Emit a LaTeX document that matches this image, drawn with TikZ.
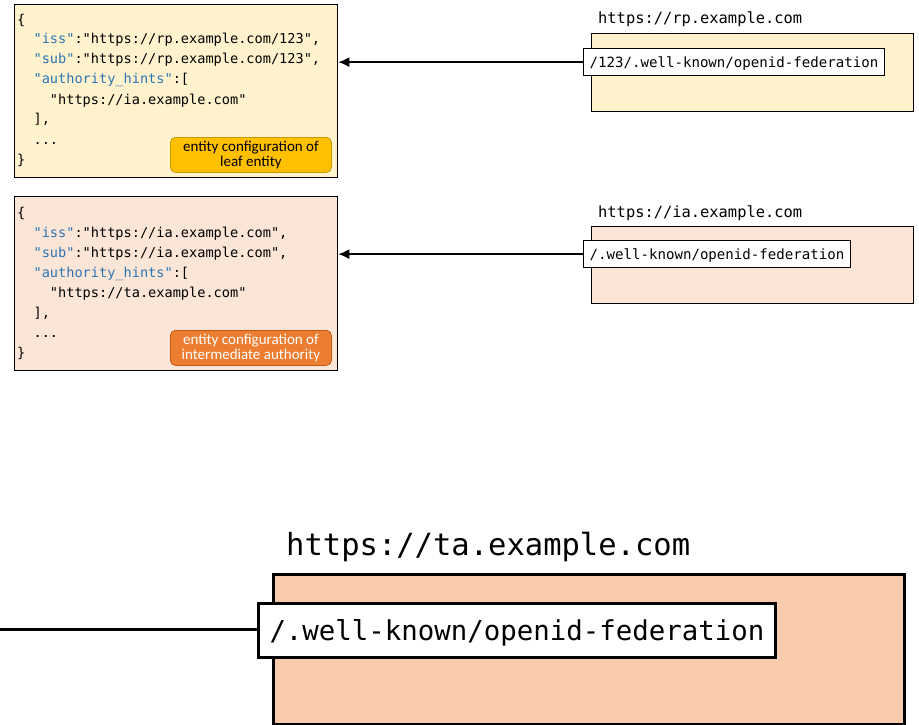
\documentclass[tikz,border=0pt]{standalone}
\usepackage{fontspec}
\setmainfont{Carlito}
\newfontfamily\monof{DejaVu Sans Mono}
\usetikzlibrary{arrows.meta}
\definecolor{keyblue}{HTML}{2E75B6}
\definecolor{leaffill}{HTML}{FFF2CC}
\definecolor{iafill}{HTML}{FBE5D6}
\definecolor{tafill}{HTML}{F8CBAD}
\definecolor{leaftag}{HTML}{FFC000}
\definecolor{leaftagb}{HTML}{C99700}
\definecolor{iatag}{HTML}{ED7D31}
\definecolor{iatagb}{HTML}{C55A11}
\newcommand\jkey[1]{\textcolor{keyblue}{"#1"}}
\tikzset{
  jbox/.style={draw=black, line width=1.3pt, anchor=north west, inner sep=0pt},
  jline/.style={anchor=base west, inner sep=0pt, font=\monof\fontsize{13.6}{16}\selectfont},
  hostbox/.style={draw=black, line width=1.3pt, anchor=north west, inner sep=0pt},
  pathbox/.style={draw=black, fill=white, line width=1.3pt, anchor=north west, inner xsep=6pt, inner ysep=0pt, font=\monof\fontsize{14.1}{16}\selectfont, text depth=0pt},
  hostlbl/.style={anchor=base west, inner sep=0pt, font=\monof\fontsize{15.4}{18}\selectfont},
  tag/.style={rounded corners=5pt, line width=0.8pt, anchor=north west, inner sep=0pt, align=center, font=\fontsize{15}{15.5}\selectfont},
  arr/.style={line width=1.6pt, -{Latex[length=11pt,width=10pt]}},
}
\begin{document}
\begin{tikzpicture}[x=1pt,y=-1pt]
\useasboundingbox (0,0) rectangle (919,725);
% ---------- leaf entity configuration ----------
\node[jbox, fill=leaffill, minimum width=323pt, minimum height=173pt] (j1) at (14,4) {};
\node[jline] (j1a) at (17,25) {\{};
\node[jline] (j1b) at (17,44) {\ \ \jkey{iss}:"https://rp.example.com/123",};
\node[jline] (j1c) at (17,64) {\ \ \jkey{sub}:"https://rp.example.com/123",};
\node[jline] (j1d) at (17,84) {\ \ \jkey{authority\_hints}:[};
\node[jline] (j1e) at (17,104) {\ \ \ \ "https://ia.example.com"};
\node[jline] (j1f) at (17,124) {\ \ ],};
\node[jline] (j1g) at (17,144) {\ \ ...};
\node[jline] (j1h) at (17,164) {\}};
\node[tag, fill=leaftag, draw=leaftagb, minimum width=161pt, minimum height=35pt] (t1) at (170,137) {entity configuration of\\leaf entity};
% ---------- intermediate authority entity configuration ----------
\node[jbox, fill=iafill, minimum width=323pt, minimum height=174pt] (j2) at (14,196) {};
\node[jline] (j2a) at (17,217) {\{};
\node[jline] (j2b) at (17,237) {\ \ \jkey{iss}:"https://ia.example.com",};
\node[jline] (j2c) at (17,257) {\ \ \jkey{sub}:"https://ia.example.com",};
\node[jline] (j2d) at (17,277) {\ \ \jkey{authority\_hints}:[};
\node[jline] (j2e) at (17,297) {\ \ \ \ "https://ta.example.com"};
\node[jline] (j2f) at (17,317) {\ \ ],};
\node[jline] (j2g) at (17,337) {\ \ ...};
\node[jline] (j2h) at (17,357) {\}};
\node[tag, fill=iatag, draw=iatagb, text=white, minimum width=161pt, minimum height=35pt] (t2) at (170,330) {entity configuration of\\intermediate authority};
% ---------- rp host ----------
\node[hostlbl] (h1) at (598,24) {https://rp.example.com};
\node[hostbox, fill=leaffill, minimum width=322pt, minimum height=78pt] (b1) at (591,33) {};
\node[pathbox, minimum height=27pt] (p1) at (583,48) {/123/.well-known/openid-federation};
\draw[arr] (p1.west) -- (p1.west -| j1.east);
% ---------- ia host ----------
\node[hostlbl] (h2) at (598,217) {https://ia.example.com};
\node[hostbox, fill=iafill, minimum width=322pt, minimum height=77pt] (b2) at (591,226) {};
\node[pathbox, minimum height=27pt] (p2) at (583,240) {/.well-known/openid-federation};
\draw[arr] (p2.west) -- (p2.west -| j2.east);
% ---------- ta host ----------
\node[anchor=base west, inner sep=0pt, font=\monof\fontsize{30.5}{34}\selectfont] (h3) at (286,555) {https://ta.example.com};
\node[draw=black, line width=3pt, fill=tafill, anchor=north west, inner sep=0pt, minimum width=631pt, minimum height=150pt] (b3) at (272,573) {};
\node[draw=black, fill=white, line width=3pt, anchor=north west, inner xsep=11pt, inner ysep=0pt, minimum height=54pt, text depth=0pt, font=\monof\fontsize{27.4}{30}\selectfont] (p3) at (257,602) {/.well-known/openid-federation};
\coordinate (c3) at (0,629);
\draw[line width=3pt] (c3) -- (c3 -| p3.west);
\end{tikzpicture}
\end{document}
